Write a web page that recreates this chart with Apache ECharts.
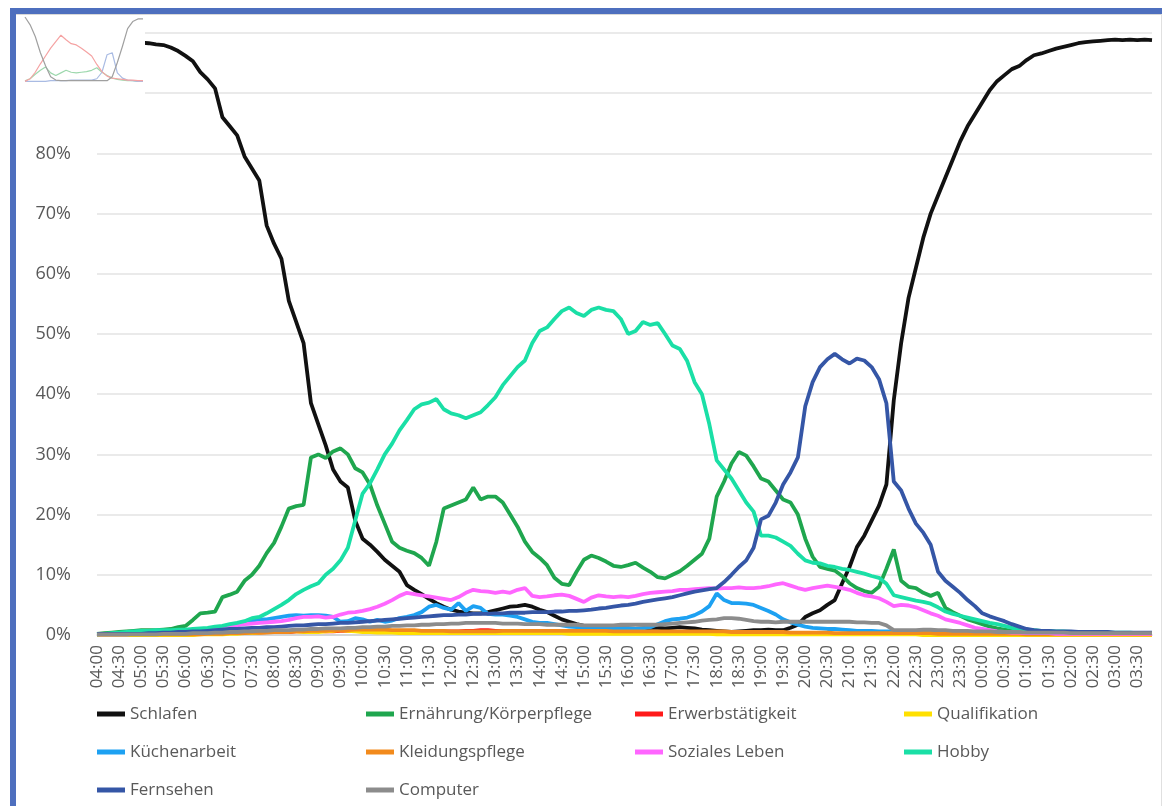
<!DOCTYPE html>
<html>
<head>
<meta charset="utf-8">
<script src="https://cdn.jsdelivr.net/npm/echarts@6/dist/echarts.min.js"></script>
<style>
  html, body { margin: 0; padding: 0; background: #fff; }
  #chart { width: 1167px; height: 806px; }
</style>
</head>
<body>
<div id="chart"></div>
<script>
// 10-minuten-Takt, 04:00 bis 03:50
const times = []
for (let m = 0; m < 144; m++) {
  const t = (240 + m * 10) % 1440
  times.push(String(Math.floor(t / 60)).padStart(2, '0') + ':' + String(t % 60).padStart(2, '0'))
}

const names = ['Schlafen', 'Ernährung/Körperpflege', 'Erwerbstätigkeit', 'Qualifikation',
  'Küchenarbeit', 'Kleidungspflege', 'Soziales Leben', 'Hobby', 'Fernsehen', 'Computer']
const colors = ['#111111', '#1fa64e', '#ff1a1a', '#ffe000', '#1da1f2',
  '#f28a1c', '#ff66ff', '#1adfa6', '#3556a6', '#8c8c8c']

const schlafen = [
  99.0, 99.0, 98.9, 98.8, 98.7, 98.6, 98.4, 98.3, 98.1, 98.0, 97.6, 97.0,
  96.2, 95.3, 93.5, 92.3, 90.8, 86.0, 84.5, 83.0, 79.5, 77.5, 75.5, 68.0,
  65.0, 62.5, 55.5, 52.0, 48.5, 38.5, 35.0, 31.5, 27.5, 25.5, 24.5, 19.0,
  16.0, 15.0, 13.8, 12.5, 11.5, 10.5, 8.3, 7.5, 6.8, 6.0, 5.3, 4.7,
  4.2, 3.9, 3.7, 3.6, 3.6, 3.8, 4.1, 4.4, 4.7, 4.8, 5.0, 4.7,
  4.2, 3.8, 3.2, 2.6, 2.2, 1.8, 1.5, 1.3, 1.2, 1.2, 1.1, 1.1,
  1.1, 1.0, 1.1, 1.2, 1.2, 1.1, 1.2, 1.3, 1.2, 1.1, 0.9, 0.8,
  0.7, 0.6, 0.5, 0.6, 0.7, 0.8, 0.8, 0.9, 0.8, 0.8, 1.2, 1.7,
  3.0, 3.6, 4.1, 5.0, 5.8, 8.6, 11.3, 14.6, 16.5, 19.0, 21.5, 25.0,
  39.0, 48.5, 56.0, 61.0, 66.0, 70.0, 73.0, 76.0, 79.0, 82.0, 84.5, 86.5,
  88.5, 90.5, 92.0, 93.0, 94.0, 94.5, 95.5, 96.3, 96.6, 97.0, 97.4, 97.7,
  98.0, 98.3, 98.5, 98.6, 98.7, 98.8, 98.9, 98.8, 98.9, 98.8, 98.9, 98.8
]
const ernaehrung = [
  0.2, 0.3, 0.4, 0.5, 0.6, 0.7, 0.8, 0.8, 0.8, 0.9, 1.0, 1.3,
  1.5, 2.5, 3.6, 3.7, 3.9, 6.3, 6.7, 7.2, 9.0, 10.0, 11.5, 13.6,
  15.3, 18.0, 21.0, 21.4, 21.6, 29.5, 30.0, 29.4, 30.5, 31.0, 30.0, 27.7,
  27.0, 25.0, 21.5, 18.5, 15.5, 14.5, 14.0, 13.6, 12.8, 11.5, 15.5, 21.0,
  21.5, 22.0, 22.5, 24.5, 22.5, 23.0, 23.0, 22.0, 20.0, 18.0, 15.5, 13.8,
  12.8, 11.6, 9.5, 8.5, 8.3, 10.5, 12.5, 13.2, 12.8, 12.2, 11.5, 11.3,
  11.6, 12.0, 11.2, 10.5, 9.6, 9.4, 10.0, 10.6, 11.5, 12.5, 13.5, 16.0,
  23.0, 25.5, 28.5, 30.4, 29.8, 28.0, 26.0, 25.5, 24.0, 22.5, 22.0, 20.0,
  16.0, 13.0, 11.3, 11.0, 10.7, 9.8, 8.6, 7.8, 7.3, 7.0, 8.0, 11.0,
  14.2, 9.0, 8.0, 7.8, 7.0, 6.5, 7.0, 4.5, 3.8, 3.2, 2.6, 2.2,
  1.8, 1.4, 1.1, 0.9, 0.7, 0.6, 0.5, 0.4, 0.4, 0.3, 0.3, 0.3,
  0.3, 0.3, 0.3, 0.2, 0.2, 0.2, 0.2, 0.2, 0.2, 0.2, 0.2, 0.2
]
const erwerb = [
  0.1, 0.1, 0.1, 0.1, 0.1, 0.1, 0.1, 0.1, 0.1, 0.1, 0.1, 0.1,
  0.1, 0.1, 0.2, 0.2, 0.2, 0.3, 0.3, 0.3, 0.4, 0.4, 0.4, 0.5,
  0.5, 0.5, 0.5, 0.6, 0.6, 0.6, 0.7, 0.6, 0.6, 0.7, 0.7, 0.7,
  0.7, 0.6, 0.6, 0.7, 0.7, 0.6, 0.6, 0.6, 0.7, 0.7, 0.6, 0.6,
  0.6, 0.6, 0.7, 0.7, 0.8, 0.8, 0.7, 0.7, 0.6, 0.6, 0.6, 0.7,
  0.7, 0.6, 0.6, 0.6, 0.6, 0.5, 0.5, 0.5, 0.6, 0.6, 0.5, 0.5,
  0.5, 0.5, 0.5, 0.5, 0.4, 0.4, 0.4, 0.4, 0.4, 0.4, 0.4, 0.3,
  0.3, 0.3, 0.3, 0.3, 0.3, 0.3, 0.3, 0.3, 0.3, 0.3, 0.3, 0.2,
  0.2, 0.2, 0.2, 0.2, 0.2, 0.2, 0.2, 0.2, 0.2, 0.2, 0.2, 0.2,
  0.2, 0.2, 0.2, 0.2, 0.1, 0.1, 0.1, 0.1, 0.1, 0.1, 0.1, 0.1,
  0.1, 0.1, 0.1, 0.1, 0.1, 0.1, 0.1, 0.1, 0.1, 0.1, 0.1, 0.1,
  0.1, 0.1, 0.1, 0.1, 0.1, 0.1, 0.1, 0.1, 0.1, 0.1, 0.1, 0.1
]
const qualifikation = [
  0.0, 0.0, 0.0, 0.0, 0.0, 0.0, 0.0, 0.0, 0.0, 0.0, 0.0, 0.0,
  0.0, 0.0, 0.1, 0.1, 0.1, 0.1, 0.2, 0.2, 0.3, 0.3, 0.4, 0.5,
  0.6, 0.6, 0.7, 0.6, 0.5, 0.5, 0.5, 0.6, 0.7, 0.8, 0.7, 0.6,
  0.5, 0.5, 0.4, 0.4, 0.4, 0.3, 0.3, 0.3, 0.3, 0.3, 0.3, 0.3,
  0.3, 0.3, 0.3, 0.3, 0.3, 0.3, 0.3, 0.3, 0.3, 0.3, 0.3, 0.3,
  0.3, 0.3, 0.3, 0.3, 0.2, 0.2, 0.2, 0.2, 0.2, 0.2, 0.2, 0.2,
  0.2, 0.2, 0.2, 0.2, 0.2, 0.2, 0.2, 0.2, 0.2, 0.2, 0.2, 0.2,
  0.1, 0.1, 0.1, 0.1, 0.1, 0.1, 0.1, 0.1, 0.1, 0.1, 0.1, 0.1,
  0.1, 0.1, 0.1, 0.1, 0.1, 0.1, 0.1, 0.1, 0.1, 0.1, 0.1, 0.1,
  0.1, 0.1, 0.1, 0.1, 0.0, 0.0, 0.0, 0.0, 0.0, 0.0, 0.0, 0.0,
  0.0, 0.0, 0.0, 0.0, 0.0, 0.0, 0.0, 0.0, 0.0, 0.0, 0.0, 0.0,
  0.0, 0.0, 0.0, 0.0, 0.0, 0.0, 0.0, 0.0, 0.0, 0.0, 0.0, 0.0
]
const kueche = [
  0.1, 0.1, 0.1, 0.1, 0.1, 0.2, 0.2, 0.2, 0.2, 0.3, 0.3, 0.4,
  0.5, 0.6, 0.8, 1.0, 1.2, 1.4, 1.6, 1.9, 2.2, 2.4, 2.6, 2.6,
  2.8, 3.0, 3.2, 3.3, 3.2, 3.3, 3.3, 3.2, 3.0, 2.2, 2.3, 2.8,
  2.6, 2.2, 2.5, 2.2, 2.4, 2.8, 3.0, 3.3, 3.8, 4.7, 5.0, 4.5,
  4.2, 5.3, 4.0, 4.8, 4.5, 3.5, 3.4, 3.4, 3.2, 3.0, 2.6, 2.2,
  2.0, 2.0, 1.8, 1.6, 1.4, 1.3, 1.2, 1.2, 1.1, 1.1, 1.0, 1.0,
  1.1, 1.0, 1.1, 1.3, 1.8, 2.3, 2.6, 2.7, 2.9, 3.3, 3.9, 4.8,
  6.9, 5.8, 5.3, 5.3, 5.2, 5.0, 4.5, 4.0, 3.4, 2.6, 2.1, 1.7,
  1.4, 1.2, 1.1, 1.0, 1.0, 0.9, 0.8, 0.7, 0.7, 0.7, 0.6, 0.6,
  0.6, 0.6, 0.5, 0.5, 0.5, 0.5, 0.4, 0.4, 0.4, 0.4, 0.4, 0.3,
  0.3, 0.3, 0.3, 0.3, 0.3, 0.3, 0.3, 0.3, 0.3, 0.2, 0.2, 0.2,
  0.2, 0.2, 0.2, 0.2, 0.2, 0.2, 0.2, 0.2, 0.2, 0.2, 0.2, 0.2
]
const kleidung = [
  0.1, 0.1, 0.1, 0.1, 0.1, 0.1, 0.1, 0.1, 0.1, 0.1, 0.1, 0.1,
  0.1, 0.1, 0.1, 0.2, 0.2, 0.2, 0.3, 0.3, 0.3, 0.4, 0.4, 0.4,
  0.5, 0.5, 0.5, 0.6, 0.6, 0.7, 0.7, 0.7, 0.8, 0.8, 0.8, 0.9,
  0.9, 0.9, 0.9, 0.9, 0.8, 0.8, 0.8, 0.8, 0.7, 0.7, 0.7, 0.7,
  0.6, 0.6, 0.6, 0.6, 0.6, 0.6, 0.6, 0.7, 0.7, 0.7, 0.7, 0.7,
  0.7, 0.7, 0.7, 0.7, 0.7, 0.7, 0.7, 0.7, 0.7, 0.7, 0.6, 0.6,
  0.6, 0.6, 0.6, 0.6, 0.6, 0.6, 0.6, 0.6, 0.6, 0.6, 0.6, 0.6,
  0.6, 0.6, 0.5, 0.5, 0.5, 0.5, 0.5, 0.5, 0.5, 0.5, 0.4, 0.4,
  0.4, 0.4, 0.4, 0.4, 0.3, 0.3, 0.3, 0.3, 0.3, 0.3, 0.3, 0.3,
  0.3, 0.3, 0.3, 0.3, 0.3, 0.3, 0.2, 0.2, 0.2, 0.2, 0.2, 0.2,
  0.2, 0.2, 0.2, 0.2, 0.2, 0.2, 0.1, 0.1, 0.1, 0.1, 0.1, 0.1,
  0.1, 0.1, 0.1, 0.1, 0.1, 0.1, 0.1, 0.1, 0.1, 0.1, 0.1, 0.1
]
const sozial = [
  0.1, 0.1, 0.1, 0.1, 0.1, 0.2, 0.2, 0.2, 0.3, 0.3, 0.4, 0.4,
  0.5, 0.6, 0.7, 0.8, 1.0, 1.2, 1.4, 1.6, 1.8, 1.9, 2.0, 2.1,
  2.2, 2.3, 2.5, 2.8, 3.0, 3.0, 3.1, 2.9, 3.0, 3.4, 3.7, 3.8,
  4.0, 4.3, 4.7, 5.2, 5.8, 6.5, 7.0, 6.8, 6.6, 6.4, 6.2, 6.0,
  5.8, 6.3, 7.0, 7.5, 7.3, 7.2, 7.0, 7.2, 7.0, 7.5, 7.8, 6.5,
  6.3, 6.4, 6.6, 6.7, 6.5, 6.0, 5.5, 6.2, 6.6, 6.4, 6.3, 6.4,
  6.3, 6.5, 6.8, 7.0, 7.1, 7.2, 7.3, 7.5, 7.5, 7.6, 7.7, 7.8,
  7.7, 7.8, 7.8, 7.9, 7.8, 7.8, 7.9, 8.1, 8.4, 8.6, 8.2, 7.8,
  7.5, 7.8, 8.0, 8.2, 8.0, 7.8, 7.5, 7.0, 6.6, 6.4, 6.1, 5.5,
  4.8, 5.0, 4.9, 4.6, 4.1, 3.6, 3.2, 2.6, 2.3, 2.0, 1.6, 1.2,
  1.0, 0.8, 0.6, 0.5, 0.4, 0.4, 0.3, 0.3, 0.3, 0.3, 0.2, 0.2,
  0.2, 0.2, 0.2, 0.2, 0.2, 0.2, 0.2, 0.2, 0.2, 0.2, 0.2, 0.2
]
const hobby = [
  0.1, 0.2, 0.3, 0.4, 0.5, 0.6, 0.7, 0.7, 0.8, 0.8, 0.8, 0.9,
  0.9, 1.0, 1.1, 1.2, 1.4, 1.5, 1.8, 2.0, 2.3, 2.8, 3.0, 3.6,
  4.3, 5.0, 5.8, 6.8, 7.5, 8.1, 8.6, 10.0, 11.0, 12.4, 14.5, 19.0,
  23.5, 25.2, 27.5, 30.0, 31.8, 34.0, 35.7, 37.5, 38.3, 38.6, 39.2, 37.5,
  36.8, 36.5, 36.0, 36.5, 37.0, 38.2, 39.5, 41.5, 43.0, 44.5, 45.6, 48.5,
  50.5, 51.1, 52.5, 53.8, 54.4, 53.5, 53.0, 54.0, 54.4, 54.0, 53.8, 52.5,
  50.0, 50.5, 52.0, 51.5, 51.8, 50.0, 48.1, 47.5, 45.5, 42.0, 40.0, 35.0,
  29.0, 27.5, 26.0, 24.0, 22.0, 20.5, 16.5, 16.5, 16.2, 15.5, 14.8, 13.5,
  12.4, 12.0, 11.9, 11.5, 11.3, 11.0, 10.8, 10.5, 10.2, 9.8, 9.5, 8.5,
  6.6, 6.3, 6.0, 5.7, 5.5, 5.2, 4.6, 3.9, 3.5, 3.2, 2.9, 2.6,
  2.3, 2.0, 1.8, 1.5, 1.2, 1.0, 0.9, 0.8, 0.7, 0.7, 0.6, 0.6,
  0.5, 0.5, 0.5, 0.5, 0.4, 0.4, 0.4, 0.4, 0.4, 0.3, 0.3, 0.3
]
const fernsehen = [
  0.2, 0.2, 0.2, 0.2, 0.2, 0.2, 0.2, 0.3, 0.3, 0.4, 0.4, 0.5,
  0.5, 0.6, 0.6, 0.7, 0.8, 0.9, 1.0, 1.0, 1.1, 1.2, 1.2, 1.3,
  1.3, 1.4, 1.5, 1.6, 1.6, 1.7, 1.8, 1.8, 1.9, 2.0, 2.0, 2.1,
  2.2, 2.3, 2.4, 2.5, 2.6, 2.7, 2.8, 2.9, 3.0, 3.1, 3.2, 3.3,
  3.3, 3.4, 3.4, 3.5, 3.5, 3.5, 3.6, 3.6, 3.7, 3.7, 3.7, 3.8,
  3.8, 3.8, 3.9, 3.9, 4.0, 4.0, 4.1, 4.2, 4.4, 4.5, 4.7, 4.9,
  5.0, 5.2, 5.5, 5.7, 5.9, 6.1, 6.3, 6.6, 6.9, 7.2, 7.4, 7.6,
  7.8, 8.8, 10.0, 11.3, 12.4, 14.5, 19.2, 19.8, 22.0, 25.0, 27.0, 29.5,
  38.0, 42.0, 44.5, 45.8, 46.7, 45.8, 45.1, 45.9, 45.6, 44.5, 42.5, 38.5,
  25.5, 24.0, 21.0, 18.5, 17.0, 15.0, 10.5, 9.0, 8.0, 7.0, 5.8, 4.8,
  3.6, 3.1, 2.7, 2.3, 1.8, 1.4, 1.0, 0.8, 0.7, 0.7, 0.6, 0.6,
  0.6, 0.5, 0.5, 0.5, 0.5, 0.5, 0.4, 0.4, 0.4, 0.4, 0.4, 0.4
]
const computer = [
  0.1, 0.1, 0.1, 0.1, 0.1, 0.1, 0.1, 0.1, 0.1, 0.2, 0.2, 0.2,
  0.2, 0.3, 0.3, 0.3, 0.4, 0.4, 0.5, 0.5, 0.6, 0.6, 0.7, 0.7,
  0.8, 0.8, 0.8, 0.9, 0.9, 1.0, 1.0, 1.1, 1.1, 1.1, 1.2, 1.2,
  1.3, 1.3, 1.4, 1.4, 1.5, 1.5, 1.6, 1.6, 1.7, 1.7, 1.8, 1.8,
  1.9, 1.9, 2.0, 2.0, 2.0, 2.0, 2.0, 1.9, 1.9, 1.9, 1.8, 1.8,
  1.8, 1.7, 1.7, 1.7, 1.7, 1.7, 1.6, 1.6, 1.6, 1.6, 1.6, 1.7,
  1.7, 1.7, 1.7, 1.7, 1.7, 1.8, 1.9, 2.0, 2.1, 2.2, 2.4, 2.5,
  2.6, 2.8, 2.8, 2.7, 2.5, 2.3, 2.2, 2.2, 2.1, 2.2, 2.2, 2.2,
  2.2, 2.2, 2.2, 2.2, 2.2, 2.2, 2.2, 2.1, 2.1, 2.0, 2.0, 1.6,
  0.8, 0.8, 0.8, 0.8, 0.9, 0.9, 0.8, 0.8, 0.7, 0.7, 0.7, 0.6,
  0.6, 0.6, 0.5, 0.5, 0.5, 0.5, 0.4, 0.4, 0.4, 0.4, 0.4, 0.4,
  0.3, 0.3, 0.3, 0.3, 0.3, 0.3, 0.3, 0.3, 0.3, 0.3, 0.3, 0.3
]

// kleines Vorschaubild oben links
const miniHours = ['04', '05', '06', '07', '08', '09', '10', '11', '12', '13', '14', '15',
  '16', '17', '18', '19', '20', '21', '22', '23', '00', '01', '02', '03']
const miniSchlaf = [100, 88, 70, 45, 25, 8, 3, 2, 2, 2, 2, 2, 2, 2, 2, 2, 2, 8, 30, 55, 82, 93, 97, 97]
const miniRot = [1, 5, 15, 28, 40, 52, 62, 72, 65, 59, 57, 52, 46, 40, 27, 16, 9, 6, 5, 4, 3, 3, 2, 2]
const miniGruen = [2, 5, 12, 18, 23, 14, 10, 14, 18, 15, 14, 15, 16, 18, 22, 15, 10, 6, 4, 3, 2, 2, 1, 1]
const miniBlau = [1, 1, 1, 1, 1, 2, 2, 2, 2, 3, 3, 3, 3, 3, 5, 15, 42, 45, 14, 6, 3, 2, 1, 1]

const seriesData = [schlafen, ernaehrung, erwerb, qualifikation, kueche,
  kleidung, sozial, hobby, fernsehen, computer]

const font = "'Open Sans', 'Noto Sans', sans-serif"
const legendText = { fontSize: 17, color: '#595959', fontFamily: font, lineHeight: 20 }

const makeLegend = (left, data) => ({
  left, top: 704, orient: 'vertical', itemGap: 18, padding: 0,
  icon: 'rect', itemWidth: 28, itemHeight: 5,
  textStyle: legendText, data, selectedMode: false
})

const miniLine = (data, color) => ({
  type: 'line', xAxisIndex: 1, yAxisIndex: 1, data, z: 60,
  showSymbol: false, silent: true,
  lineStyle: { color, width: 1.2 }
})

const chart = echarts.init(document.getElementById('chart'))
chart.setOption({
  animation: false,
  color: colors,
  grid: [
    { left: 97, right: 15, top: 33, bottom: 171 },
    { left: 25, top: 17, width: 118, height: 65 }
  ],
  xAxis: [{
    type: 'category',
    data: times,
    boundaryGap: false,
    axisLine: { lineStyle: { color: '#d0d0d0', width: 1.5 } },
    axisTick: { show: false },
    axisLabel: {
      interval: 2, rotate: 90, margin: 10,
      fontSize: 17, color: '#595959', fontFamily: font
    }
  }, {
    type: 'category', gridIndex: 1, data: miniHours, boundaryGap: false,
    axisLine: { lineStyle: { color: '#dddddd' } },
    axisTick: { show: false }, axisLabel: { show: false }
  }],
  yAxis: [{
    type: 'value', min: 0, max: 100, interval: 10,
    axisLine: { show: false },
    axisTick: { show: false },
    splitLine: { lineStyle: { color: '#e3e3e3', width: 1.5 } },
    axisLabel: { formatter: '{value}%', margin: 26, fontSize: 18, color: '#595959', fontFamily: font }
  }, {
    type: 'value', gridIndex: 1, min: 0, max: 100, show: false
  }],
  legend: [
    makeLegend(97, ['Schlafen', 'Küchenarbeit', 'Fernsehen']),
    makeLegend(366, ['Ernährung/Körperpflege', 'Kleidungspflege', 'Computer']),
    makeLegend(635, ['Erwerbstätigkeit', 'Soziales Leben']),
    makeLegend(904, ['Qualifikation', 'Hobby'])
  ],
  graphic: [
    { type: 'rect', z: 50, shape: { x: 16, y: 14, width: 129, height: 88 }, style: { fill: '#ffffff' } },
    { type: 'rect', z: 55, shape: { x: 10, y: 8, width: 1152, height: 6 }, style: { fill: '#4e6fbe' } },
    { type: 'rect', z: 55, shape: { x: 10, y: 8, width: 6, height: 798 }, style: { fill: '#4e6fbe' } },
    { type: 'rect', z: 55, shape: { x: 16, y: 14, width: 1146, height: 1 }, style: { fill: '#d8d8d8' } },
    { type: 'rect', z: 55, shape: { x: 1161, y: 14, width: 1, height: 792 }, style: { fill: '#e0e0e0' } }
  ],
  series: names.map((name, k) => ({
    name,
    type: 'line',
    data: seriesData[k],
    showSymbol: false,
    lineStyle: { width: 3.8 },
    emphasis: { disabled: true }
  })).concat([
    miniLine(miniGruen, '#9dd8ad'),
    miniLine(miniBlau, '#a9bbe3'),
    miniLine(miniRot, '#f5a3a3'),
    miniLine(miniSchlaf, '#a0a0a0')
  ])
})
</script>
</body>
</html>
